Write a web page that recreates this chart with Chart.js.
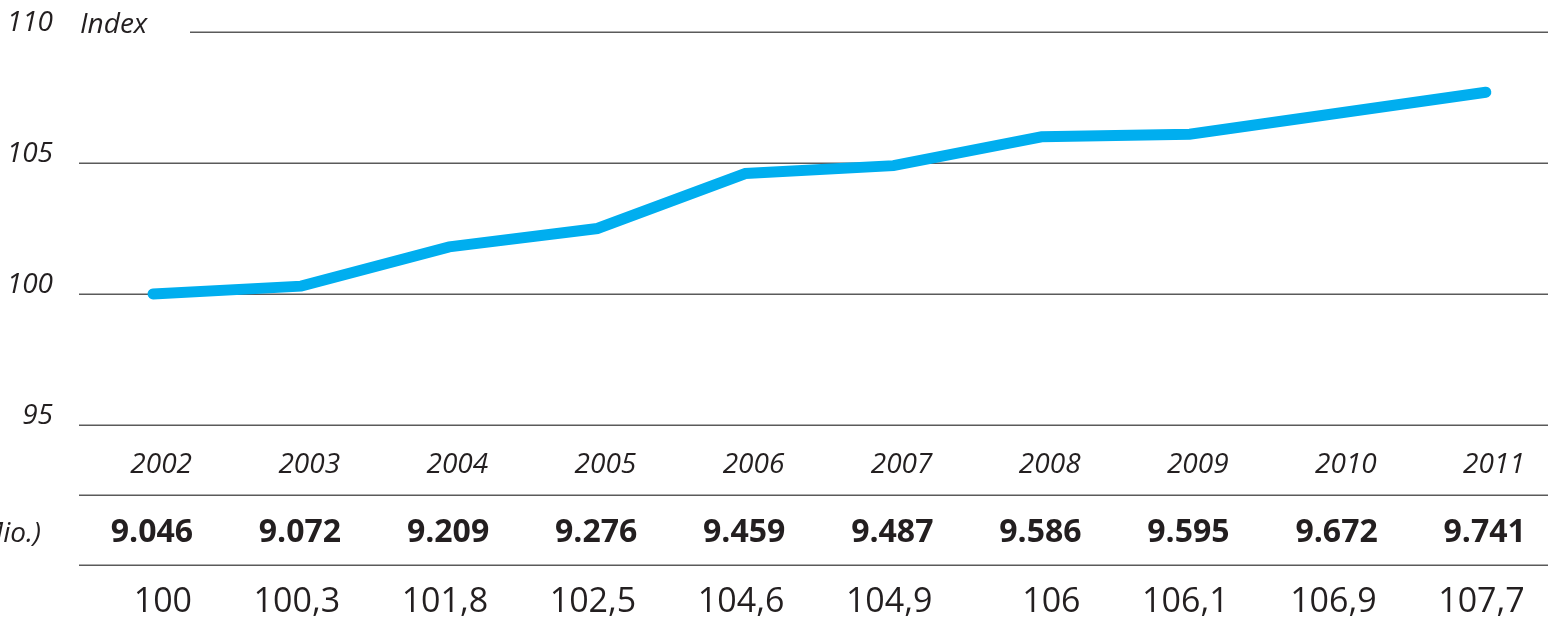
<!DOCTYPE html>
<html>
<head>
<meta charset="utf-8">
<script src="https://cdn.jsdelivr.net/npm/chart.js@4.4.0/dist/chart.umd.min.js"></script>
<style>
html,body{margin:0;padding:0;background:#fff;}
#wrap{width:1548px;height:632px;position:relative;}
</style>
</head>
<body>
<div id="wrap"><canvas id="c" width="1548" height="632"></canvas></div>
<script>
const years = [2002, 2003, 2004, 2005, 2006, 2007, 2008, 2009, 2010, 2011];
const indexValues = [100, 100.3, 101.8, 102.5, 104.6, 104.9, 106, 106.1, 106.9, 107.7];
const populationLabels = ["9.046", "9.072", "9.209", "9.276", "9.459", "9.487", "9.586", "9.595", "9.672", "9.741"];
const indexLabels = ["100", "100,3", "101,8", "102,5", "104,6", "104,9", "106", "106,1", "106,9", "107,7"];
const yTicks = [95, 100, 105, 110];
const yUnitLabel = "Index";
const rowLabel = "Einwohner (Mio.)";

const TEXT = '#231f20';
const GRID = '#5a5a5a';
const FONT = '"Open Sans", "DejaVu Sans", sans-serif';

const tablePlugin = {
  id: 'tablePlugin',
  beforeDatasetsDraw(chart) {
    const ctx = chart.ctx;
    const y = chart.scales.y;
    const area = chart.chartArea;
    const W = chart.width;
    ctx.save();
    ctx.strokeStyle = GRID;
    ctx.lineWidth = 1.5;
    yTicks.forEach(t => {
      const py = Math.round(y.getPixelForValue(t)) + 0.25;
      const x0 = t === 110 ? 190 : area.left;
      ctx.beginPath(); ctx.moveTo(x0, py); ctx.lineTo(W, py); ctx.stroke();
    });
    [495, 565].forEach(py => {
      ctx.beginPath(); ctx.moveTo(area.left, py + 0.25); ctx.lineTo(W, py + 0.25); ctx.stroke();
    });
    ctx.restore();
  },
  afterDraw(chart) {
    const ctx = chart.ctx;
    const x = chart.scales.x;
    const y = chart.scales.y;
    ctx.save();
    ctx.fillStyle = TEXT;
    ctx.textBaseline = 'alphabetic';
    ctx.textAlign = 'left';
    ctx.font = 'italic 28px ' + FONT;
    ctx.fillText(yUnitLabel, 80, y.getPixelForValue(110) + 1);
    ctx.textAlign = 'right';
    ctx.font = 'italic 28px ' + FONT;
    ctx.fillText(rowLabel, 41, 542);
    years.forEach((yr, i) => {
      const px = x.getPixelForValue(yr);
      ctx.textAlign = 'right';
      ctx.font = 'italic 28px ' + FONT;
      ctx.fillText(String(yr), px + 39, 473);
      ctx.font = 'bold 32px ' + FONT;
      ctx.fillText(populationLabels[i], px + 40, 542);
      ctx.font = '34px ' + FONT;
      ctx.fillText(indexLabels[i], px + 39, 612);
    });
    ctx.restore();
  }
};

new Chart(document.getElementById('c'), {
  type: 'line',
  data: {
    datasets: [{
      data: years.map((yr, i) => ({x: yr, y: indexValues[i]})),
      borderColor: '#00aeef',
      borderWidth: 11,
      borderCapStyle: 'round',
      borderJoinStyle: 'miter',
      pointRadius: 0,
      tension: 0,
      fill: false,
      clip: false
    }]
  },
  options: {
    responsive: false,
    animation: false,
    devicePixelRatio: 1,
    layout: { padding: { top: 32, right: 0, bottom: 207, left: 0 } },
    plugins: { legend: { display: false }, tooltip: { enabled: false } },
    scales: {
      x: {
        type: 'linear',
        min: 2001.5,
        max: 2011.42,
        display: false
      },
      y: {
        min: 95,
        max: 110,
        afterFit(scale) { scale.width = 79; scale.paddingTop = 0; scale.paddingBottom = 0; },
        afterBuildTicks(scale) { scale.ticks = yTicks.map(v => ({value: v})); },
        border: { display: false },
        grid: { display: false, drawTicks: false },
        ticks: {
          padding: 26,
          labelOffset: -9,
          color: TEXT,
          font: { family: FONT, size: 28, style: 'italic' },
          callback: v => String(v)
        }
      }
    }
  },
  plugins: [tablePlugin]
});
</script>
</body>
</html>
